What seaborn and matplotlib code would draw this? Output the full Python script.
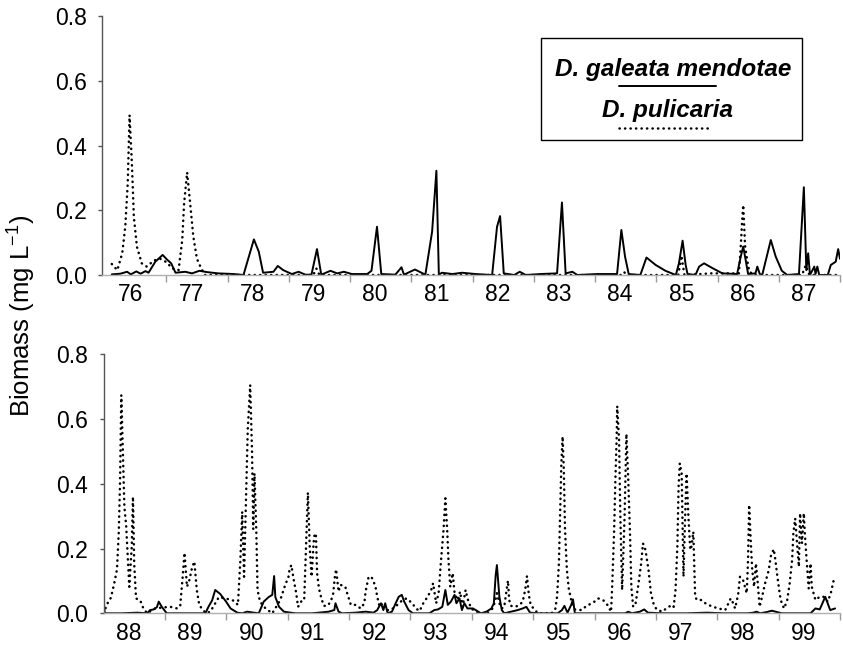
import matplotlib
matplotlib.use("Agg")
import matplotlib.pyplot as plt
import seaborn as sns
import pandas as pd
from matplotlib.patches import Rectangle
from matplotlib.lines import Line2D

# ---------------- data (decimal year, biomass mg/L) ----------------
gm_top_t = [1976.11, 1976.25, 1976.36, 1976.42, 1976.51, 1976.58, 1976.66, 1976.71, 1976.82, 1976.94,
            1977.01, 1977.08, 1977.15, 1977.31, 1977.42, 1977.54, 1977.66, 1977.85, 1978.10, 1978.26,
            1978.43, 1978.51, 1978.58, 1978.75, 1978.82, 1978.91, 1979.05, 1979.16, 1979.27, 1979.37,
            1979.46, 1979.53, 1979.68, 1979.79, 1979.90, 1980.03, 1980.28, 1980.35, 1980.44, 1980.51,
            1980.74, 1980.84, 1980.88, 1981.06, 1981.23, 1981.34, 1981.41, 1981.45, 1981.50, 1981.67,
            1981.83, 1982.05, 1982.32, 1982.40, 1982.45, 1982.51, 1982.68, 1982.77, 1982.87, 1983.11,
            1983.38, 1983.46, 1983.52, 1983.63, 1983.71, 1984.04, 1984.36, 1984.43, 1984.49, 1984.55,
            1984.74, 1984.84, 1984.99, 1985.15, 1985.32, 1985.37, 1985.43, 1985.48, 1985.51, 1985.64,
            1985.70, 1985.78, 1985.92, 1986.08, 1986.32, 1986.38, 1986.42, 1986.46, 1986.50, 1986.62,
            1986.65, 1986.69, 1986.73, 1986.87, 1986.95, 1987.05, 1987.14, 1987.33, 1987.41, 1987.45,
            1987.48, 1987.51, 1987.58, 1987.60, 1987.63, 1987.66, 1987.80, 1987.85, 1987.93, 1987.97,
            1988.00]
gm_top_v = [0.002, 0.004, 0.010, 0.002, 0.011, 0.004, 0.012, 0.007, 0.041, 0.062,
            0.048, 0.036, 0.007, 0.010, 0.005, 0.013, 0.009, 0.005, 0.003, 0.000,
            0.110, 0.072, 0.007, 0.010, 0.028, 0.015, 0.003, 0.010, 0.001, 0.001,
            0.080, 0.001, 0.013, 0.005, 0.010, 0.003, 0.003, 0.013, 0.149, 0.003,
            0.001, 0.024, 0.001, 0.017, 0.001, 0.134, 0.322, 0.001, 0.007, 0.003,
            0.007, 0.003, 0.000, 0.149, 0.182, 0.005, 0.000, 0.010, 0.000, 0.003,
            0.005, 0.224, 0.005, 0.010, 0.000, 0.003, 0.003, 0.139, 0.057, 0.003,
            0.000, 0.054, 0.031, 0.013, 0.000, 0.036, 0.106, 0.031, 0.003, 0.000,
            0.026, 0.036, 0.021, 0.005, 0.003, 0.057, 0.088, 0.046, 0.003, 0.005,
            0.026, 0.003, 0.000, 0.108, 0.057, 0.013, 0.000, 0.003, 0.271, 0.015,
            0.067, 0.000, 0.026, 0.003, 0.026, 0.000, 0.000, 0.031, 0.041, 0.080,
            0.050]

pu_top_t = [1976.11, 1976.20, 1976.28, 1976.33, 1976.37, 1976.40, 1976.44, 1976.47, 1976.52, 1976.60,
            1976.68, 1976.80, 1976.90, 1977.00, 1977.10, 1977.20, 1977.26, 1977.29, 1977.34, 1977.39,
            1977.44, 1977.50, 1977.57, 1977.63, 1978.50, 1979.40, 1979.45, 1979.50, 1980.50, 1981.50,
            1982.50, 1983.50, 1984.45, 1984.48, 1984.52, 1985.36, 1985.41, 1985.46, 1985.90, 1986.35,
            1986.38, 1986.40, 1986.42, 1986.45, 1986.49, 1986.52, 1986.60, 1987.38, 1987.44, 1987.50,
            1988.00]
pu_top_v = [0.034, 0.015, 0.067, 0.149, 0.283, 0.494, 0.335, 0.180, 0.087, 0.036,
            0.026, 0.045, 0.050, 0.040, 0.020, 0.015, 0.108, 0.220, 0.317, 0.220,
            0.120, 0.050, 0.020, 0.000, 0.000, 0.000, 0.020, 0.000, 0.000, 0.000,
            0.000, 0.000, 0.000, 0.008, 0.000, 0.000, 0.060, 0.000, 0.005, 0.005,
            0.090, 0.160, 0.216, 0.090, 0.040, 0.010, 0.000, 0.000, 0.030, 0.000,
            0.000]

gm_bot_t = [1988.00, 1988.02, 1988.30, 1988.55, 1988.71, 1988.76, 1988.82, 1988.87, 1988.90, 1988.95,
            1989.03, 1989.30, 1989.58, 1989.66, 1989.71, 1989.77, 1989.82, 1989.90, 1989.99, 1990.07,
            1990.18, 1990.26, 1990.34, 1990.45, 1990.53, 1990.61, 1990.69, 1990.75, 1990.78, 1990.80,
            1990.86, 1990.94, 1990.97, 1991.13, 1991.40, 1991.67, 1991.76, 1991.78, 1991.83, 1991.89,
            1992.11, 1992.27, 1992.40, 1992.46, 1992.52, 1992.56, 1992.59, 1992.63, 1992.70, 1992.76,
            1992.81, 1992.86, 1992.90, 1992.97, 1993.04, 1993.14, 1993.31, 1993.39, 1993.45, 1993.52,
            1993.57, 1993.61, 1993.66, 1993.72, 1993.75, 1993.80, 1993.84, 1993.88, 1993.93, 1994.02,
            1994.15, 1994.24, 1994.32, 1994.36, 1994.39, 1994.41, 1994.45, 1994.49, 1994.53, 1994.64,
            1994.75, 1994.83, 1994.89, 1994.95, 1995.08, 1995.40, 1995.47, 1995.51, 1995.56, 1995.62,
            1995.65, 1995.68, 1995.95, 1996.28, 1996.50, 1996.55, 1996.61, 1996.74, 1996.81, 1996.87,
            1997.10, 1997.50, 1997.83, 1998.10, 1998.50, 1998.59, 1998.64, 1998.70, 1998.81, 1998.89,
            1998.97, 1999.05, 1999.52, 1999.60, 1999.67, 1999.76, 1999.84, 1999.92]
gm_bot_v = [0.046, 0.000, 0.000, 0.002, 0.000, 0.010, 0.012, 0.019, 0.036, 0.020,
            0.000, 0.000, 0.000, 0.000, 0.020, 0.040, 0.072, 0.060, 0.038, 0.015,
            0.002, 0.000, 0.005, 0.002, 0.000, 0.036, 0.050, 0.057, 0.115, 0.050,
            0.020, 0.005, 0.004, 0.000, 0.000, 0.005, 0.010, 0.031, 0.005, 0.000,
            0.002, 0.005, 0.002, 0.010, 0.031, 0.010, 0.031, 0.000, 0.005, 0.031,
            0.051, 0.057, 0.036, 0.010, 0.000, 0.000, 0.000, 0.010, 0.012, 0.020,
            0.072, 0.026, 0.036, 0.057, 0.031, 0.046, 0.010, 0.031, 0.015, 0.015,
            0.000, 0.005, 0.015, 0.031, 0.118, 0.149, 0.051, 0.010, 0.000, 0.005,
            0.010, 0.015, 0.020, 0.002, 0.000, 0.000, 0.010, 0.023, 0.002, 0.026,
            0.043, 0.000, 0.000, 0.000, 0.000, 0.005, 0.000, 0.005, 0.012, 0.002,
            0.000, 0.000, 0.002, 0.000, 0.000, 0.002, 0.005, 0.000, 0.004, 0.008,
            0.004, 0.000, 0.000, 0.015, 0.012, 0.051, 0.010, 0.015]

pu_bot_t = [1988.00, 1988.06, 1988.12, 1988.17, 1988.22, 1988.25, 1988.27, 1988.29, 1988.31, 1988.34,
            1988.37, 1988.42, 1988.46, 1988.48, 1988.50, 1988.53, 1988.60, 1988.65, 1988.71, 1988.84,
            1988.97, 1989.09, 1989.20, 1989.25, 1989.29, 1989.32, 1989.36, 1989.40, 1989.44, 1989.48,
            1989.52, 1989.56, 1989.60, 1989.67, 1989.74, 1989.88, 1989.99, 1990.12, 1990.19, 1990.23,
            1990.26, 1990.29, 1990.32, 1990.35, 1990.39, 1990.42, 1990.44, 1990.46, 1990.49, 1990.51,
            1990.55, 1990.64, 1990.75, 1990.88, 1990.97, 1991.01, 1991.03, 1991.06, 1991.10, 1991.14,
            1991.17, 1991.23, 1991.27, 1991.29, 1991.31, 1991.33, 1991.36, 1991.39, 1991.43, 1991.46,
            1991.48, 1991.51, 1991.55, 1991.59, 1991.65, 1991.70, 1991.74, 1991.77, 1991.79, 1991.83,
            1991.86, 1991.94, 1991.97, 1992.03, 1992.11, 1992.19, 1992.25, 1992.27, 1992.32, 1992.37,
            1992.43, 1992.46, 1992.50, 1992.55, 1992.60, 1992.68, 1992.75, 1992.82, 1992.87, 1992.94,
            1993.03, 1993.09, 1993.15, 1993.21, 1993.28, 1993.34, 1993.37, 1993.42, 1993.46, 1993.50,
            1993.54, 1993.57, 1993.60, 1993.62, 1993.65, 1993.69, 1993.72, 1993.77, 1993.81, 1993.85,
            1993.90, 1993.93, 1993.99, 1994.07, 1994.15, 1994.25, 1994.34, 1994.38, 1994.41, 1994.45,
            1994.49, 1994.53, 1994.56, 1994.59, 1994.61, 1994.64, 1994.71, 1994.78, 1994.83, 1994.87,
            1994.90, 1994.93, 1994.96, 1995.01, 1995.08, 1995.20, 1995.30, 1995.36, 1995.39, 1995.42,
            1995.44, 1995.46, 1995.48, 1995.50, 1995.52, 1995.55, 1995.58, 1995.62, 1995.68, 1995.79,
            1995.87, 1995.98, 1996.06, 1996.14, 1996.21, 1996.27, 1996.29, 1996.32, 1996.34, 1996.36,
            1996.37, 1996.40, 1996.42, 1996.45, 1996.49, 1996.52, 1996.55, 1996.58, 1996.60, 1996.63,
            1996.67, 1996.71, 1996.76, 1996.79, 1996.83, 1996.88, 1996.92, 1996.96, 1997.01, 1997.10,
            1997.17, 1997.26, 1997.29, 1997.32, 1997.35, 1997.37, 1997.39, 1997.42, 1997.45, 1997.47,
            1997.50, 1997.53, 1997.56, 1997.58, 1997.61, 1997.64, 1997.67, 1997.74, 1997.82, 1997.93,
            1998.02, 1998.13, 1998.17, 1998.22, 1998.26, 1998.29, 1998.34, 1998.37, 1998.42, 1998.45,
            1998.48, 1998.50, 1998.52, 1998.55, 1998.57, 1998.60, 1998.63, 1998.66, 1998.69, 1998.73,
            1998.78, 1998.84, 1998.87, 1998.92, 1998.94, 1998.98, 1999.02, 1999.05, 1999.09, 1999.14,
            1999.18, 1999.22, 1999.24, 1999.27, 1999.30, 1999.33, 1999.35, 1999.38, 1999.41, 1999.43,
            1999.46, 1999.49, 1999.52, 1999.54, 1999.60, 1999.67, 1999.73, 1999.80, 1999.85, 1999.91]
pu_bot_v = [0.000, 0.029, 0.048, 0.088, 0.136, 0.257, 0.412, 0.674, 0.535, 0.330,
            0.268, 0.082, 0.206, 0.360, 0.154, 0.046, 0.039, 0.015, 0.000, 0.015,
            0.018, 0.020, 0.015, 0.023, 0.113, 0.187, 0.082, 0.103, 0.139, 0.160,
            0.072, 0.026, 0.015, 0.000, 0.005, 0.050, 0.046, 0.039, 0.026, 0.165,
            0.314, 0.113, 0.340, 0.566, 0.705, 0.500, 0.260, 0.432, 0.250, 0.072,
            0.036, 0.015, 0.000, 0.041, 0.093, 0.108, 0.134, 0.149, 0.103, 0.062,
            0.020, 0.039, 0.041, 0.154, 0.257, 0.373, 0.206, 0.113, 0.237, 0.247,
            0.124, 0.077, 0.046, 0.023, 0.023, 0.036, 0.057, 0.113, 0.136, 0.067,
            0.088, 0.082, 0.062, 0.026, 0.026, 0.015, 0.031, 0.067, 0.113, 0.111,
            0.084, 0.051, 0.020, 0.031, 0.010, 0.010, 0.020, 0.031, 0.041, 0.046,
            0.031, 0.015, 0.007, 0.031, 0.051, 0.072, 0.093, 0.031, 0.062, 0.165,
            0.257, 0.355, 0.257, 0.165, 0.082, 0.124, 0.062, 0.041, 0.067, 0.020,
            0.072, 0.046, 0.015, 0.005, 0.000, 0.000, 0.015, 0.036, 0.062, 0.031,
            0.015, 0.020, 0.062, 0.101, 0.041, 0.023, 0.020, 0.026, 0.036, 0.072,
            0.115, 0.057, 0.026, 0.014, 0.000, 0.000, 0.000, 0.012, 0.051, 0.154,
            0.309, 0.463, 0.546, 0.443, 0.257, 0.134, 0.077, 0.041, 0.012, 0.010,
            0.023, 0.033, 0.046, 0.041, 0.026, 0.005, 0.093, 0.257, 0.412, 0.535,
            0.640, 0.535, 0.309, 0.072, 0.299, 0.554, 0.412, 0.237, 0.082, 0.020,
            0.031, 0.082, 0.154, 0.216, 0.196, 0.134, 0.062, 0.031, 0.012, 0.005,
            0.015, 0.026, 0.020, 0.072, 0.206, 0.391, 0.463, 0.432, 0.113, 0.257,
            0.432, 0.299, 0.196, 0.206, 0.252, 0.051, 0.041, 0.041, 0.029, 0.020,
            0.015, 0.010, 0.026, 0.046, 0.031, 0.015, 0.057, 0.113, 0.103, 0.082,
            0.062, 0.154, 0.335, 0.206, 0.134, 0.082, 0.154, 0.093, 0.020, 0.051,
            0.093, 0.134, 0.175, 0.198, 0.175, 0.113, 0.057, 0.031, 0.015, 0.041,
            0.093, 0.165, 0.247, 0.293, 0.216, 0.144, 0.309, 0.216, 0.309, 0.237,
            0.154, 0.077, 0.154, 0.082, 0.041, 0.051, 0.051, 0.036, 0.062, 0.113]

top_years = list(range(1976, 1988))
bot_years = list(range(1988, 2000))
top_labels = [str(y % 100) for y in top_years]
bot_labels = [str(y % 100) for y in bot_years]
yticks = [0.0, 0.2, 0.4, 0.6, 0.8]
species = ["D. galeata mendotae", "D. pulicaria"]

# ---------------- style ----------------
sns.set_theme(style="white")
plt.rcParams["font.family"] = ["Liberation Sans", "DejaVu Sans"]
plt.rcParams["mathtext.default"] = "regular"
plt.rcParams["text.color"] = "black"

FS = 16.5
DOT = (0, (0.1, 2.1))

fig = plt.figure(figsize=(8.43, 6.5), dpi=100)
ax1 = fig.add_axes([0.12100, 0.57692, 0.87544, 0.39846])
ax2 = fig.add_axes([0.12278, 0.05646, 0.87366, 0.39846])


def draw_panel(ax, gm_t, gm_v, pu_t, pu_v, years, labels, xlim):
    df_gm = pd.DataFrame({"t": gm_t, "v": gm_v})
    df_pu = pd.DataFrame({"t": pu_t, "v": pu_v})
    sns.lineplot(data=df_pu, x="t", y="v", ax=ax, color="black", lw=1.8,
                 estimator=None, sort=True, legend=False)
    ln = ax.lines[-1]
    ln.set_linestyle(DOT)
    ln.set_dash_capstyle("round")
    sns.lineplot(data=df_gm, x="t", y="v", ax=ax, color="black", lw=1.4,
                 estimator=None, sort=True, legend=False)
    ax.set_xlim(*xlim)
    ax.set_ylim(0, 0.8)
    ax.set_xlabel("")
    ax.set_ylabel("")
    ax.set_xticks([y + 0.41 for y in years])
    ax.set_xticklabels(labels, fontsize=FS)
    ax.set_xticks(list(range(years[0] + 1, years[-1] + 2)), minor=True)
    ax.tick_params(axis="x", which="major", length=0, pad=6, labelcolor="black")
    ax.tick_params(axis="x", which="minor", length=5, width=1, color="#9a9a9a",
                   bottom=True, direction="out")
    ax.set_yticks(yticks)
    ax.set_yticklabels([f"{v:.1f}" for v in yticks], fontsize=FS)
    ax.tick_params(axis="y", which="major", length=3, width=1, color="#555555",
                   left=True, direction="out", pad=8, labelcolor="black")
    for s in ("top", "right"):
        ax.spines[s].set_visible(False)
    ax.spines["left"].set_color("#555555")
    ax.spines["left"].set_linewidth(1.0)
    ax.spines["bottom"].set_color("#b0b0b0")
    ax.spines["bottom"].set_linewidth(1.0)
    ax.grid(False)


draw_panel(ax1, gm_top_t, gm_top_v, pu_top_t, pu_top_v, top_years, top_labels, (1975.95, 1988.0))
draw_panel(ax2, gm_bot_t, gm_bot_v, pu_bot_t, pu_bot_v, bot_years, bot_labels, (1988.0, 2000.0))

# ---------------- legend (custom layout: sample line under each name) ----------------
tr = ax1.transAxes
ax1.add_patch(Rectangle((0.595, 0.521), 0.3535, 0.395, transform=tr, fill=False,
                        edgecolor="black", lw=1.0, clip_on=False, zorder=5))
ax1.text(0.774, 0.794, species[0], transform=tr, ha="center", va="center", color="black",
         fontsize=17.5, fontweight="bold", fontstyle="italic", zorder=6)
ax1.add_line(Line2D([0.700, 0.832], [0.731, 0.731], transform=tr, color="black", lw=1.4, zorder=6))
ax1.text(0.766, 0.637, species[1], transform=tr, ha="center", va="center", color="black",
         fontsize=17.5, fontweight="bold", fontstyle="italic", zorder=6)
ax1.add_line(Line2D([0.701, 0.826], [0.569, 0.569], transform=tr, color="black", lw=1.8,
                    linestyle=DOT, dash_capstyle="round", zorder=6))

fig.text(22 / 843, 1 - 316 / 650, "Biomass (mg L$^{-1}$)", rotation=90, color="black",
         ha="center", va="center", fontsize=18.5)

fig.savefig("out.png", dpi=100)
